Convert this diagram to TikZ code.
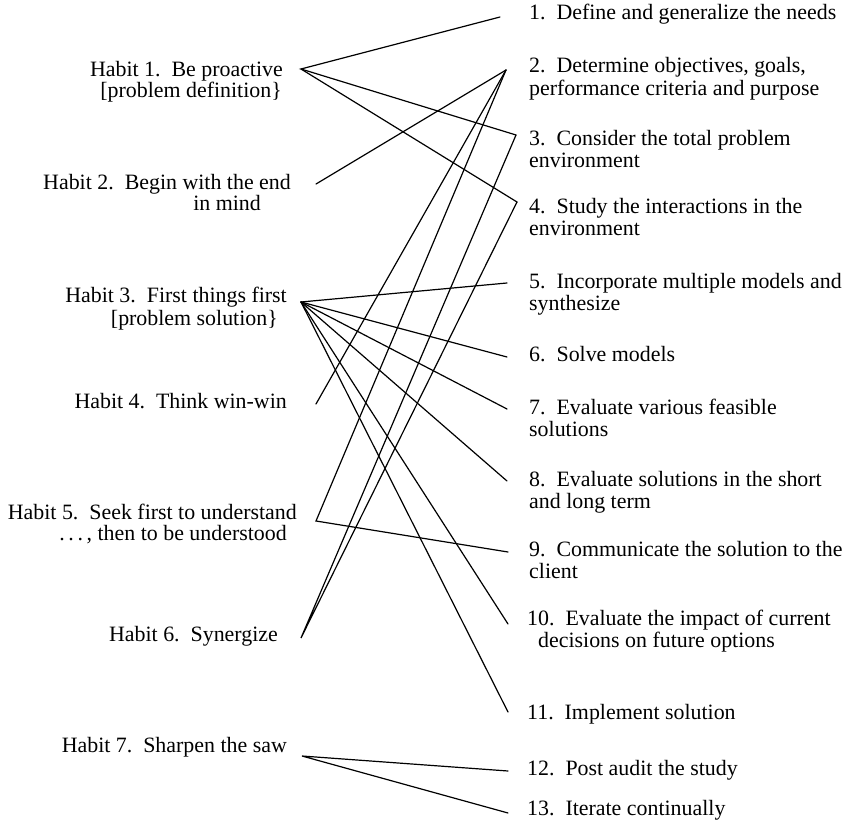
\documentclass[tikz,border=0pt]{standalone}
\usepackage{fontspec}
\setmainfont{Liberation Serif}
\begin{document}
\begin{tikzpicture}[x=1pt,y=-1pt,
  lbl/.style={inner sep=0pt, font=\fontsize{21.9}{22}\selectfont},
  lt/.style={lbl, anchor=mid east},
  rt/.style={lbl, anchor=mid west},
  conn/.style={line width=1.2pt, line cap=round}]
\useasboundingbox (0,0) rectangle (854,837);
% left labels
\node[lt] (t1a) at (283,74) {Habit 1.\ \ Be proactive};
\node[lt] (t1b) at (282,95) {[problem definition\}};
\node[lt] (t2a) at (291,187) {Habit 2.\ \ Begin with the end};
\node[lt] (t2b) at (261,208) {in mind};
\node[lt] (t3a) at (287,300) {Habit 3.\ \ First things first};
\node[lt] (t3b) at (278,323) {[problem solution\}};
\node[lt] (t4) at (287,406) {Habit 4.\ \ Think win-win};
\node[lt] (t5a) at (297,517) {Habit 5.\ \ Seek first to understand};
\node[lt] (t5b) at (287,538) {.\,.\,.\,, then to be understood};
\node[lt] (t6) at (278,639) {Habit 6.\ \ Synergize};
\node[lt] (t7) at (287,750) {Habit 7.\ \ Sharpen the saw};
% right labels
\node[rt] (s1) at (529,17) {1.\ \ Define and generalize the needs};
\node[rt] (s2a) at (529,70) {2.\ \ Determine objectives, goals,};
\node[rt] (s2b) at (529,93) {performance criteria and purpose};
\node[rt] (s3a) at (529,143) {3.\ \ Consider the total problem};
\node[rt] (s3b) at (529,165) {environment};
\node[rt] (s4a) at (529,211) {4.\ \ Study the interactions in the};
\node[rt] (s4b) at (529,233) {environment};
\node[rt] (s5a) at (529,286) {5.\ \ Incorporate multiple models and};
\node[rt] (s5b) at (529,308) {synthesize};
\node[rt] (s6) at (529,359) {6.\ \ Solve models};
\node[rt] (s7a) at (529,412) {7.\ \ Evaluate various feasible};
\node[rt] (s7b) at (529,434) {solutions};
\node[rt] (s8a) at (529,484) {8.\ \ Evaluate solutions in the short};
\node[rt] (s8b) at (529,506) {and long term};
\node[rt] (s9a) at (529,554) {9.\ \ Communicate the solution to the};
\node[rt] (s9b) at (529,576) {client};
\node[rt] (s10a) at (527,623) {10.\ \ Evaluate the impact of current};
\node[rt] (s10b) at (538,645) {decisions on future options};
\node[rt] (s11) at (527,717) {11.\ \ Implement solution};
\node[rt] (s12) at (527,773) {12.\ \ Post audit the study};
\node[rt] (s13) at (527,813) {13.\ \ Iterate continually};
% connector ends
\coordinate (h1) at (301,69);
\coordinate (h2) at (316,184);
\coordinate (h3) at (301,302);
\coordinate (h4) at (316,404);
\coordinate (h5) at (316,521);
\coordinate (h6) at (301,638);
\coordinate (h7) at (302,756);
\coordinate (r1) at (500,17);
\coordinate (r2) at (506,70);
\coordinate (r3) at (516,135);
\coordinate (r4) at (517,202);
\coordinate (r5) at (507,283);
\coordinate (r6) at (507,357);
\coordinate (r7) at (507,409);
\coordinate (r8) at (507,481);
\coordinate (r9) at (508,552);
\coordinate (r10) at (508,624);
\coordinate (r11) at (508,712);
\coordinate (r12) at (508,771);
\coordinate (r13) at (508,813);
% connectors
\draw[conn] (r1) -- (h1) -- (r3);
\draw[conn] (h1) -- (r4);
\draw[conn] (h2) -- (r2);
\foreach \t in {r5,r6,r7,r8,r10,r11} \draw[conn] (h3) -- (\t);
\draw[conn] (h4) -- (r2);
\draw[conn] (r2) -- (h5) -- (r9);
\draw[conn] (r3) -- (h6) -- (r4);
\draw[conn] (r12) -- (h7) -- (r13);
\end{tikzpicture}
\end{document}
